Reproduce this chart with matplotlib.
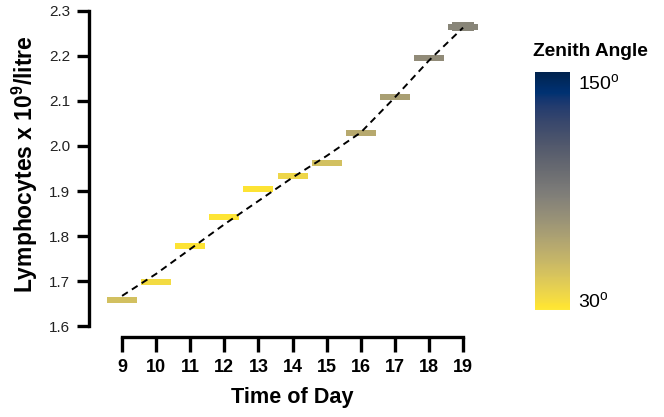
import numpy as np
import matplotlib
matplotlib.use("Agg")
import matplotlib.pyplot as plt
from matplotlib import colors, colorbar

plt.rcParams['font.family'] = ['Liberation Sans', 'DejaVu Sans']
plt.rcParams['mathtext.fontset'] = 'custom'
plt.rcParams['mathtext.rm'] = 'Liberation Sans'
plt.rcParams['mathtext.bf'] = 'Liberation Sans:bold'

# data
hours = [9, 10, 11, 12, 13, 14, 15, 16, 17, 18, 19]
lymph = [1.657, 1.698, 1.778, 1.843, 1.905, 1.934, 1.963, 2.028, 2.109, 2.196, 2.265]
zenith = [50, 36, 32, 31, 32, 38, 50, 62, 68, 80, 84]
trend = [1.667, 1.716, 1.771, 1.826, 1.878, 1.930, 1.978, 2.030, 2.108, 2.190, 2.263]
yticks = [1.6, 1.7, 1.8, 1.9, 2.0, 2.1, 2.2, 2.3]

cmap = plt.get_cmap('cividis_r')
norm = colors.Normalize(vmin=30, vmax=150)

fig = plt.figure(figsize=(6.64, 4.17), dpi=100)
ax = fig.add_axes([89/664, (417-337)/417, (490-89)/664, (337-5)/417])

bh = 0.0135
ax.bar(hours, [bh]*len(hours), bottom=[v - bh/2 for v in lymph], width=0.88,
       color=[cmap(norm(z)) for z in zenith], linewidth=0)
# the last one is drawn twice (overlapping marks)
ax.bar(hours[-1], 0.02, bottom=lymph[-1] - 0.01, width=0.66,
       color=cmap(norm(zenith[-1])), linewidth=0)

ax.plot(hours, trend, color='black', ls=(0, (3.5, 2.5)), lw=1.4)

ax.set_xlim(8.03, 19.79)
ax.set_ylim(1.5756, 2.3133)
ax.set_xticks(hours)
ax.set_yticks(yticks)
ax.set_yticklabels(['%.1f' % t for t in yticks])
for s in ['top', 'right']:
    ax.spines[s].set_visible(False)
ax.spines['left'].set_bounds(1.6, 2.3)
ax.spines['bottom'].set_bounds(9, 19)
for s in ['left', 'bottom']:
    ax.spines[s].set_linewidth(2.4)
ax.tick_params(axis='y', length=8.6, width=2.4, pad=5, labelsize=11, labelcolor='#222222')
ax.tick_params(axis='x', length=10.5, width=2.4, pad=5, labelsize=13)
for lab in ax.get_xticklabels():
    lab.set_fontweight('bold')

fig.text(292/664, 1 - 397/417, 'Time of Day', ha='center', va='center',
         fontsize=15.6, fontweight='bold')
fig.text(25/664, 1 - 164/417, r'Lymphocytes x 10$^{\mathbf{9}}$/litre', ha='center',
         va='center', rotation=90, fontsize=16.5, fontweight='bold')

# colour bar
cax = fig.add_axes([535/664, (417-310)/417, 35/664, (310-72)/417])
cb = colorbar.ColorbarBase(cax, cmap=cmap, norm=norm, orientation='vertical')
cb.outline.set_visible(False)
cb.set_ticks([])
fig.text(590/664, 1 - 52/417, 'Zenith Angle', ha='center', va='center',
         fontsize=13.8, fontweight='bold')
fig.text(578/664, 1 - 84/417, r'150$^{\mathrm{o}}$', ha='left', va='center', fontsize=14)
fig.text(578/664, 1 - 302/417, r'30$^{\mathrm{o}}$', ha='left', va='center', fontsize=14)

fig.savefig('out.png', dpi=100)
